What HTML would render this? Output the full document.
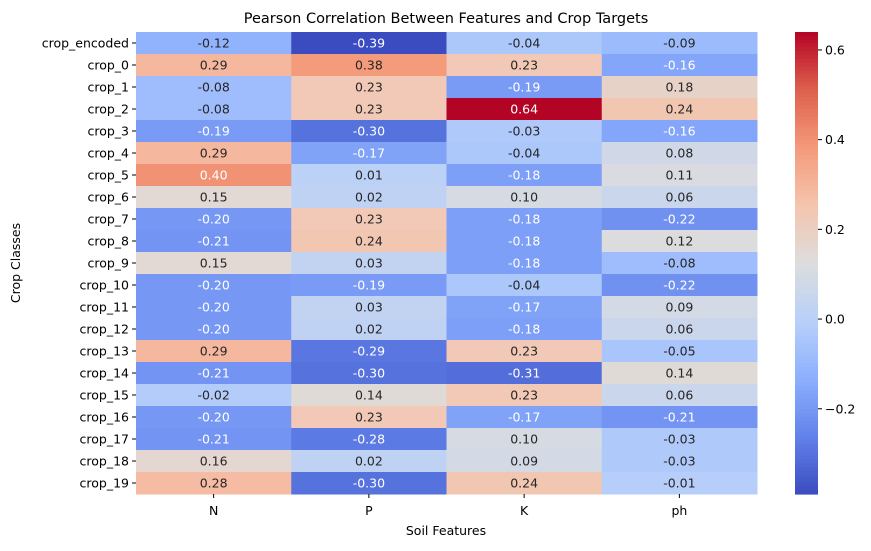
<!DOCTYPE html>
<html><head><meta charset="utf-8"><style>
body{margin:0;background:#fff;font-family:"DejaVu Sans",sans-serif;}
svg text{font-family:"DejaVu Sans",sans-serif;}
</style></head><body>
<svg id="chart" width="871" height="547" xmlns="http://www.w3.org/2000/svg">
<text x="446" y="23" text-anchor="middle" font-size="14.5">Pearson Correlation Between Features and Crop Targets</text>
<text x="446" y="535" text-anchor="middle" font-size="12.5">Soil Features</text>
<text x="20" y="263" text-anchor="middle" font-size="12.5" transform="rotate(-90 20 263)">Crop Classes</text>
<g id="cells"></g><g id="cbar"></g>
</svg>
<script>
const features=["N","P","K","ph"];
const crops=["crop_encoded","crop_0","crop_1","crop_2","crop_3","crop_4","crop_5","crop_6","crop_7","crop_8","crop_9","crop_10","crop_11","crop_12","crop_13","crop_14","crop_15","crop_16","crop_17","crop_18","crop_19"];
const colN=[-0.12,0.29,-0.08,-0.08,-0.19,0.29,0.40,0.15,-0.20,-0.21,0.15,-0.20,-0.20,-0.20,0.29,-0.21,-0.02,-0.20,-0.21,0.16,0.28];
const colP=[-0.39,0.38,0.23,0.23,-0.30,-0.17,0.01,0.02,0.23,0.24,0.03,-0.19,0.03,0.02,-0.29,-0.30,0.14,0.23,-0.28,0.02,-0.30];
const colK=[-0.04,0.23,-0.19,0.64,-0.03,-0.04,-0.18,0.10,-0.18,-0.18,-0.18,-0.04,-0.17,-0.18,0.23,-0.31,0.23,-0.17,0.10,0.09,0.24];
const colPh=[-0.09,-0.16,0.18,0.24,-0.16,0.08,0.11,0.06,-0.22,0.12,-0.08,-0.22,0.09,0.06,-0.05,0.14,0.06,-0.21,-0.03,-0.03,-0.01];
const cbTicks=[0.6,0.4,0.2,0.0,-0.2];
const cols=[colN,colP,colK,colPh];
const vmin=-0.39,vmax=0.64;
const X0=136,X1=757,Y0=32,Y1=494;
const cw=(X1-X0)/features.length, rh=(Y1-Y0)/crops.length;
const stops=[[59,76,192],[98,130,234],[141,176,254],[184,208,249],[221,221,221],[245,196,173],[244,154,123],[222,96,76],[180,4,38]];
function cmap(v){let t=Math.max(0,Math.min(1,(v-vmin)/(vmax-vmin)))*8;let i=Math.min(7,Math.floor(t)),f=t-i;const a=stops[i],b=stops[i+1];return a.map((c,k)=>Math.round(c+(b[k]-c)*f));}
function lum(c){const l=c.map(x=>{x/=255;return x<=0.03928?x/12.92:Math.pow((x+0.055)/1.055,2.4)});return 0.2126*l[0]+0.7152*l[1]+0.0722*l[2];}
const NS="http://www.w3.org/2000/svg";
const g=document.getElementById('cells');
function mk(tag,attrs,parent){const e=document.createElementNS(NS,tag);for(const k in attrs)e.setAttribute(k,attrs[k]);parent.appendChild(e);return e;}
cols.forEach((col,j)=>{col.forEach((v,i)=>{
 const c=cmap(v);
 const r=mk('rect',{x:X0+j*cw,y:Y0+i*rh,width:cw+0.5,height:rh+0.5,fill:`rgb(${c})`},g);
 
 
 const t=mk('text',{x:X0+(j+0.5)*cw,y:Y0+(i+0.5)*rh+4.5,'text-anchor':'middle','font-size':12.5,fill:lum(c)>0.408?'#262626':'#fff'},g);
 t.textContent=v.toFixed(2);
 
 
});});
crops.forEach((c,i)=>{const y=Y0+(i+0.5)*rh;mk('line',{x1:X0-4,x2:X0,y1:y,y2:y,stroke:'#000'},g);
 const t=mk('text',{x:X0-7,y:y+4.5,'text-anchor':'end','font-size':12.5},g);t.textContent=c;
 
 });
features.forEach((f,j)=>{const x=X0+(j+0.5)*cw;mk('line',{x1:x,x2:x,y1:Y1,y2:Y1+4,stroke:'#000'},g);
 const t=mk('text',{x:x,y:Y1+21,'text-anchor':'middle','font-size':12.5},g);t.textContent=f;
 
 });
const cb=document.getElementById('cbar');
const CX=795,CW=23,N=120;
for(let k=0;k<N;k++){const v=vmax-(k+0.5)/N*(vmax-vmin);const c=cmap(v);
 const r=mk('rect',{x:CX,y:Y0+k*(Y1-Y0)/N,width:CW,height:(Y1-Y0)/N+0.6,fill:`rgb(${c})`},cb);
 
 }
cbTicks.forEach(v=>{const y=Y0+(vmax-v)/(vmax-vmin)*(Y1-Y0);mk('line',{x1:CX+CW,x2:CX+CW+4,y1:y,y2:y,stroke:'#000'},cb);
 const t=mk('text',{x:CX+CW+7,y:y+4.5,'font-size':12.5},cb);t.textContent=(v<0?'−':'')+Math.abs(v).toFixed(1);
 
 });
</script>
</body></html>
